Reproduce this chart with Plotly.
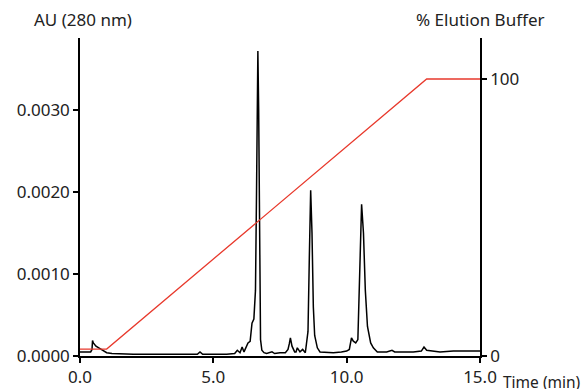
import plotly.graph_objects as go

time_min = [0.00, 0.40, 0.45, 0.47, 0.50, 0.60, 0.75, 0.90, 1.00, 1.20, 1.50, 2.00, 3.00, 4.00, 4.40, 4.50, 4.60,
            5.00, 5.50, 5.80, 5.90, 6.00, 6.08, 6.15, 6.30, 6.38, 6.45, 6.52, 6.58, 6.62, 6.65, 6.67, 6.70, 6.74,
            6.77, 6.82, 6.90, 7.00, 7.20, 7.30, 7.50, 7.70, 7.80, 7.85, 7.89, 7.95, 8.05, 8.10, 8.15, 8.25, 8.35,
            8.45, 8.55, 8.60, 8.65, 8.70, 8.75, 8.80, 8.90, 9.00, 9.50, 9.80, 10.00, 10.10, 10.18, 10.25, 10.34,
            10.42, 10.48, 10.56, 10.63, 10.70, 10.78, 10.90, 11.00, 11.15, 11.50, 11.70, 11.80, 12.50, 12.80,
            12.90, 13.00, 13.50, 14.00, 14.50, 15.00]
au_280 = [0.00005, 0.00005, 0.00008, 0.00019, 0.00016, 0.00012, 0.00009, 0.00006, 0.00004, 0.00003, 0.000025,
          0.00002, 0.00002, 0.00002, 0.00002, 0.00005, 0.00002, 0.00002, 0.00002, 0.00003, 0.00007, 0.00004,
          0.00011, 0.00005, 0.00016, 0.00018, 0.00040, 0.00045, 0.00080, 0.00200, 0.00320, 0.00372, 0.00300,
          0.00090, 0.00020, 0.00007, 0.00004, 0.00003, 0.00005, 0.00003, 0.00004, 0.00004, 0.00008, 0.00015,
          0.00022, 0.00012, 0.00005, 0.00005, 0.00010, 0.00005, 0.00008, 0.00004, 0.00030, 0.00120, 0.00202,
          0.00150, 0.00060, 0.00025, 0.00010, 0.00005, 0.00004, 0.00005, 0.00006, 0.00008, 0.00022, 0.00018,
          0.00016, 0.00020, 0.00100, 0.00185, 0.00150, 0.00080, 0.00036, 0.00016, 0.00010, 0.00005, 0.00005,
          0.00007, 0.00005, 0.00005, 0.00006, 0.00011, 0.00007, 0.00005, 0.00006, 0.00006, 0.00006]

grad_time = [0.0, 1.0, 13.0, 15.0]
grad_pct = [2.5, 2.5, 100.0, 100.0]

x_ticks = [0, 5, 10, 15]
y_ticks = [0, 0.001, 0.002, 0.003]
y2_ticks = [0, 100]

font = dict(family="Noto Sans", size=17, color="#222222")
time_font = dict(family="Noto Sans", size=15.5, color="#222222")
axis_style = dict(showgrid=False, zeroline=False, showline=True, linecolor="black", linewidth=1.5,
                  ticks="outside", ticklen=5, tickcolor="black", tickwidth=1.5, automargin=False)

fig = go.Figure()
fig.add_trace(go.Scatter(x=time_min, y=au_280, mode="lines",
                         line=dict(color="black", width=1.5), showlegend=False))
fig.add_trace(go.Scatter(x=grad_time, y=grad_pct, mode="lines", yaxis="y2",
                         line=dict(color="#e8392c", width=1.3), showlegend=False))

fig.update_layout(
    width=583, height=389,
    margin=dict(l=80, r=103, t=38, b=33, autoexpand=False),
    paper_bgcolor="white", plot_bgcolor="white",
    font=font,
    xaxis=dict(range=[0, 15], tickvals=x_ticks, tickformat=".1f", **axis_style),
    yaxis=dict(range=[0, 0.003878], tickvals=y_ticks, tickformat=".4f", **axis_style),
    yaxis2=dict(range=[0, 114.8], tickvals=y2_ticks, overlaying="y", side="right", **axis_style),
    annotations=[
        dict(text="AU (280 nm)", xref="paper", yref="paper", x=0, y=1, xanchor="center",
             yanchor="bottom", xshift=3, yshift=5, showarrow=False, font=font),
        dict(text="% Elution Buffer", xref="paper", yref="paper", x=1, y=1, xanchor="center",
             yanchor="bottom", yshift=5, showarrow=False, font=font),
        dict(text="Time (min)", xref="paper", yref="paper", x=1, y=0, xanchor="left",
             yanchor="top", xshift=21, yshift=-13, showarrow=False, font=time_font),
    ],
)

fig.write_html("out.html", config={"displayModeBar": False},
               post_script="document.body.style.margin='0';document.body.style.overflow='hidden';")
